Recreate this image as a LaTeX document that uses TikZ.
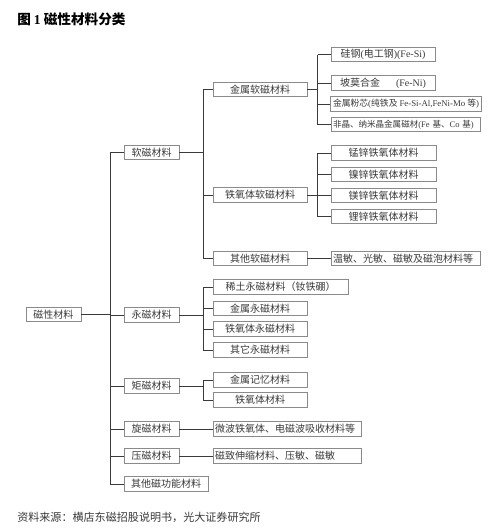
\documentclass[tikz,border=0pt]{standalone}
\usepackage{fontspec}
\setmainfont{Noto Sans CJK SC}
\newfontfamily\lat{Liberation Serif}
\definecolor{boxgray}{HTML}{8A8A8A}
\definecolor{linegray}{HTML}{3A3A3A}
\definecolor{txt}{HTML}{3A3A3A}
\tikzset{
  box/.style={draw=boxgray, line width=0.6pt, inner xsep=2pt, inner ysep=0pt,
    minimum height=11pt, text=txt, font=\fontsize{7.5}{8}\selectfont, minimum width=#1},
  boxl/.style={draw=boxgray, line width=0.6pt, inner xsep=1.5pt, inner ysep=0pt,
    minimum height=11pt, text=txt, align=left, text width=#1},
  conn/.style={draw=linegray, line width=0.75pt}
}
\begin{document}
\begin{tikzpicture}[x=0.75pt,y=-0.75pt]
\useasboundingbox[fill=white] (0,0) rectangle (500,532);
% title
\node[anchor=west, inner sep=0, font=\bfseries\fontsize{10.2}{12}\selectfont] (title) at (17,19) {图 {\lat 1} 磁性材料分类};
% level 0
\node[box=41.25pt] (root) at (53.5,314.5) {磁性材料};
% level 1
\node[box=41.25pt] (soft) at (151.5,152.5) {软磁材料};
\node[box=41.25pt] (perm) at (151.5,315) {永磁材料};
\node[box=41.25pt] (rect) at (151.5,386) {矩磁材料};
\node[box=41.25pt] (gyro) at (151.5,429) {旋磁材料};
\node[box=41.25pt] (piezo) at (151.5,456) {压磁材料};
\node[box=63pt] (othf) at (166,484) {其他磁功能材料};
% soft level 2
\node[box=70.5pt] (metsoft) at (260,89.5) {金属软磁材料};
\node[box=70.5pt] (ferrsoft) at (260,195) {铁氧体软磁材料};
\node[box=70.5pt] (othsoft) at (260,258.5) {其他软磁材料};
% metal soft leaves
\node[box=78pt] (fesi) at (383,54.5) {硅钢{\lat(}电工钢{\lat)(Fe-Si)}};
\node[box=78pt] (feni) at (383,83) {坡莫合金\hspace{1.6em}{\lat(Fe-Ni)}};
\node[box=112.5pt, font=\fontsize{6.6}{7}\selectfont] (powder) at (406,104) {金属粉芯{\lat(}纯铁及 {\lat Fe-Si-Al,FeNi-Mo} 等{\lat)}};
\node[boxl=108.75pt, font=\fontsize{6.4}{7}\selectfont] (amorph) at (405.5,124.5) {非晶、纳米晶金属磁材{\lat(Fe} 基、{\lat Co} 基{\lat)}};
% ferrite soft leaves
\node[box=78.75pt] (mnzn) at (383.5,153) {锰锌铁氧体材料};
\node[box=78.75pt] (nizn) at (383.5,174.5) {镍锌铁氧体材料};
\node[box=78.75pt] (mgzn) at (383.5,195.5) {镁锌铁氧体材料};
\node[box=78.75pt] (lizn) at (383.5,216.5) {锂锌铁氧体材料};
% other soft leaf
\node[boxl=108.75pt, font=\fontsize{7.5}{8}\selectfont] (sens) at (405.5,258.5) {温敏、光敏、磁敏及磁泡材料等};
% permanent leaves
\node[box=101.25pt] (rare) at (280.5,287) {稀土永磁材料（钕铁硼）};
\node[box=70.5pt] (metperm) at (260,308.5) {金属永磁材料};
\node[box=70.5pt] (ferrperm) at (260,329) {铁氧体永磁材料};
\node[box=70.5pt] (othperm) at (260,350) {其它永磁材料};
% rect leaves
\node[box=70.5pt] (memory) at (260,380) {金属记忆材料};
\node[box=70.5pt] (ferr) at (260,400) {铁氧体材料};
% gyro / piezo leaves
\node[boxl=108pt, font=\fontsize{7.5}{8}\selectfont] (micro) at (287,429) {微波铁氧体、电磁波吸收材料等};
\node[boxl=108pt, font=\fontsize{7.5}{8}\selectfont] (magneto) at (287,456) {磁致伸缩材料、压敏、磁敏};
% footer
\node[anchor=west, inner sep=0, text=txt, font=\fontsize{8.3}{10}\selectfont] (src) at (17,517) {资料来源：横店东磁招股说明书，光大证券研究所};

% bus coordinates
\coordinate (b0) at (110,0);
\coordinate (b1) at (203,0);
\coordinate (b2) at (317.5,0);

% root to level 1
\draw[conn] (root.east) -- (root.east -| b0);
\draw[conn] (soft.west -| b0) -- (othf.west -| b0);
\foreach \n in {soft,perm,rect,gyro,piezo,othf} \draw[conn] (\n.west -| b0) -- (\n.west);
% soft
\draw[conn] (soft.east) -- (soft.east -| b1);
\draw[conn] (metsoft.west -| b1) -- (othsoft.west -| b1);
\foreach \n in {metsoft,ferrsoft,othsoft} \draw[conn] (\n.west -| b1) -- (\n.west);
% metal soft
\draw[conn] (metsoft.east) -- (metsoft.east -| b2);
\draw[conn] (fesi.west -| b2) -- (amorph.west -| b2);
\foreach \n in {fesi,feni,powder,amorph} \draw[conn] (\n.west -| b2) -- (\n.west);
% ferrite soft
\draw[conn] (ferrsoft.east) -- (ferrsoft.east -| b2);
\draw[conn] (mnzn.west -| b2) -- (lizn.west -| b2);
\foreach \n in {mnzn,nizn,mgzn,lizn} \draw[conn] (\n.west -| b2) -- (\n.west);
% other soft
\draw[conn] (othsoft.east) -- (sens.west);
% permanent
\draw[conn] (perm.east) -- (perm.east -| b1);
\draw[conn] (rare.west -| b1) -- (othperm.west -| b1);
\foreach \n in {rare,metperm,ferrperm,othperm} \draw[conn] (\n.west -| b1) -- (\n.west);
% rect
\draw[conn] (rect.east) -- (rect.east -| b1);
\draw[conn] (memory.west -| b1) -- (ferr.west -| b1);
\foreach \n in {memory,ferr} \draw[conn] (\n.west -| b1) -- (\n.west);
% gyro, piezo
\draw[conn] (gyro.east) -- (micro.west);
\draw[conn] (piezo.east) -- (magneto.west);
\end{tikzpicture}
\end{document}
